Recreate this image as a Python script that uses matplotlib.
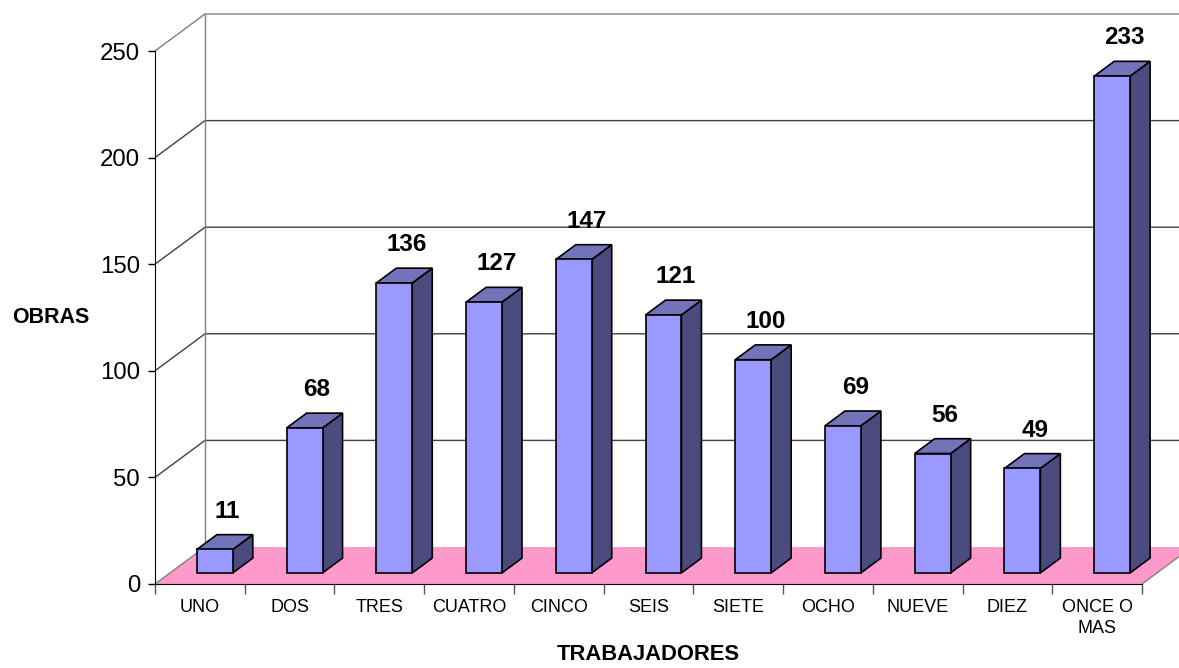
import matplotlib
matplotlib.use('Agg')
import matplotlib.pyplot as plt
from matplotlib.patches import Polygon

# ---- data ----
categories = ['UNO', 'DOS', 'TRES', 'CUATRO', 'CINCO', 'SEIS', 'SIETE',
              'OCHO', 'NUEVE', 'DIEZ', 'ONCE O\nMAS']
values = [11, 68, 136, 127, 147, 121, 100, 69, 56, 49, 233]
yticks = [0, 50, 100, 150, 200, 250]
x_title = 'TRABAJADORES'
y_title = 'OBRAS'

plt.rcParams['font.family'] = ['Liberation Sans', 'DejaVu Sans']

W, H = 1179, 668
fig = plt.figure(figsize=(W / 100, H / 100), dpi=100)
fig.patch.set_facecolor('white')
ax = fig.add_axes([155 / W, (H - 584) / H, (1142 - 155) / W, (584 - 51) / H])
n = len(categories)
ax.set_xlim(0, n)
ax.set_ylim(0, yticks[-1])
ax.patch.set_visible(False)

DX, DY = 50, 37  # full depth offset in pixels


def P(x, y, d):
    px, py = ax.transData.transform((x, y))
    return ax.transData.inverted().transform((px + DX * d, py + DY * d))


def line(pts, **kw):
    xs = [p[0] for p in pts]
    ys = [p[1] for p in pts]
    ax.plot(xs, ys, clip_on=False, solid_capstyle='butt', **kw)


# floor
floor = Polygon([P(0, 0, 0), P(n, 0, 0), P(n, 0, 1), P(0, 0, 1)],
                closed=True, facecolor='#FF99CC', edgecolor='none',
                zorder=1, clip_on=False)
ax.add_patch(floor)
line([P(0, 0, 0), P(0, 0, 1)], color='#808080', lw=1, zorder=1.2)
line([P(n, 0, 0), P(n, 0, 1)], color='#808080', lw=1, zorder=1.2)

# walls / gridlines
for yv in yticks[1:]:
    col = '#808080' if yv == yticks[-1] else '#404040'
    line([P(0, yv, 0), P(0, yv, 1), P(n * 1.2, yv, 1)], color=col, lw=1, zorder=1.5)
line([P(0, 0, 1), P(0, yticks[-1], 1)], color='#808080', lw=1, zorder=1.5)

# bars
d0, d1 = 0.3, 0.7
for i, v in enumerate(values):
    x0, x1 = i + 0.3, i + 0.7
    front = [P(x0, 0, d0), P(x1, 0, d0), P(x1, v, d0), P(x0, v, d0)]
    side = [P(x1, 0, d0), P(x1, 0, d1), P(x1, v, d1), P(x1, v, d0)]
    top = [P(x0, v, d0), P(x1, v, d0), P(x1, v, d1), P(x0, v, d1)]
    for pts, fc in ((side, '#4B4B80'), (top, '#7373B9'), (front, '#9999FF')):
        ax.add_patch(Polygon(pts, closed=True, facecolor=fc, edgecolor='black',
                             lw=1.2, zorder=3, clip_on=False, joinstyle='miter'))
    ax.annotate(str(v), xy=(i + 0.5, v), xytext=(27.5, DY * d1 + 17),
                textcoords='offset pixels', ha='center', va='baseline',
                fontsize=17.5, fontweight='bold', zorder=5, annotation_clip=False)

# axes: spines and ticks
for s in ('top', 'right'):
    ax.spines[s].set_visible(False)
ax.spines['left'].set_color('black')
ax.spines['bottom'].set_color('black')
ax.spines['left'].set_zorder(4)
ax.spines['bottom'].set_zorder(4)

ax.set_yticks(yticks)
ax.set_yticklabels([str(t) for t in yticks])
ax.tick_params(axis='y', direction='out', length=5, width=1, pad=5.8,
               labelsize=17.3, colors='black')

ax.set_xticks(range(n + 1))
ax.set_xticklabels([''] * (n + 1))
ax.tick_params(axis='x', which='major', direction='out', length=7.2, width=1,
               color='#555555')
ax.set_xticks([i + 0.5 for i in range(n)], minor=True)
ax.set_xticklabels(categories, minor=True)
ax.tick_params(axis='x', which='minor', length=0, pad=10.5, labelsize=13)
for lbl in ax.get_xticklabels(minor=True):
    lbl.set_linespacing(1.35)

fig.text(51 / W, 1 - 317 / H, y_title, ha='center', va='center',
         fontsize=15.5, fontweight='bold')
fig.text(648 / W, 1 - 655 / H, x_title, ha='center', va='center',
         fontsize=15.8, fontweight='bold')

fig.savefig('out.png', dpi=100, facecolor='white')
